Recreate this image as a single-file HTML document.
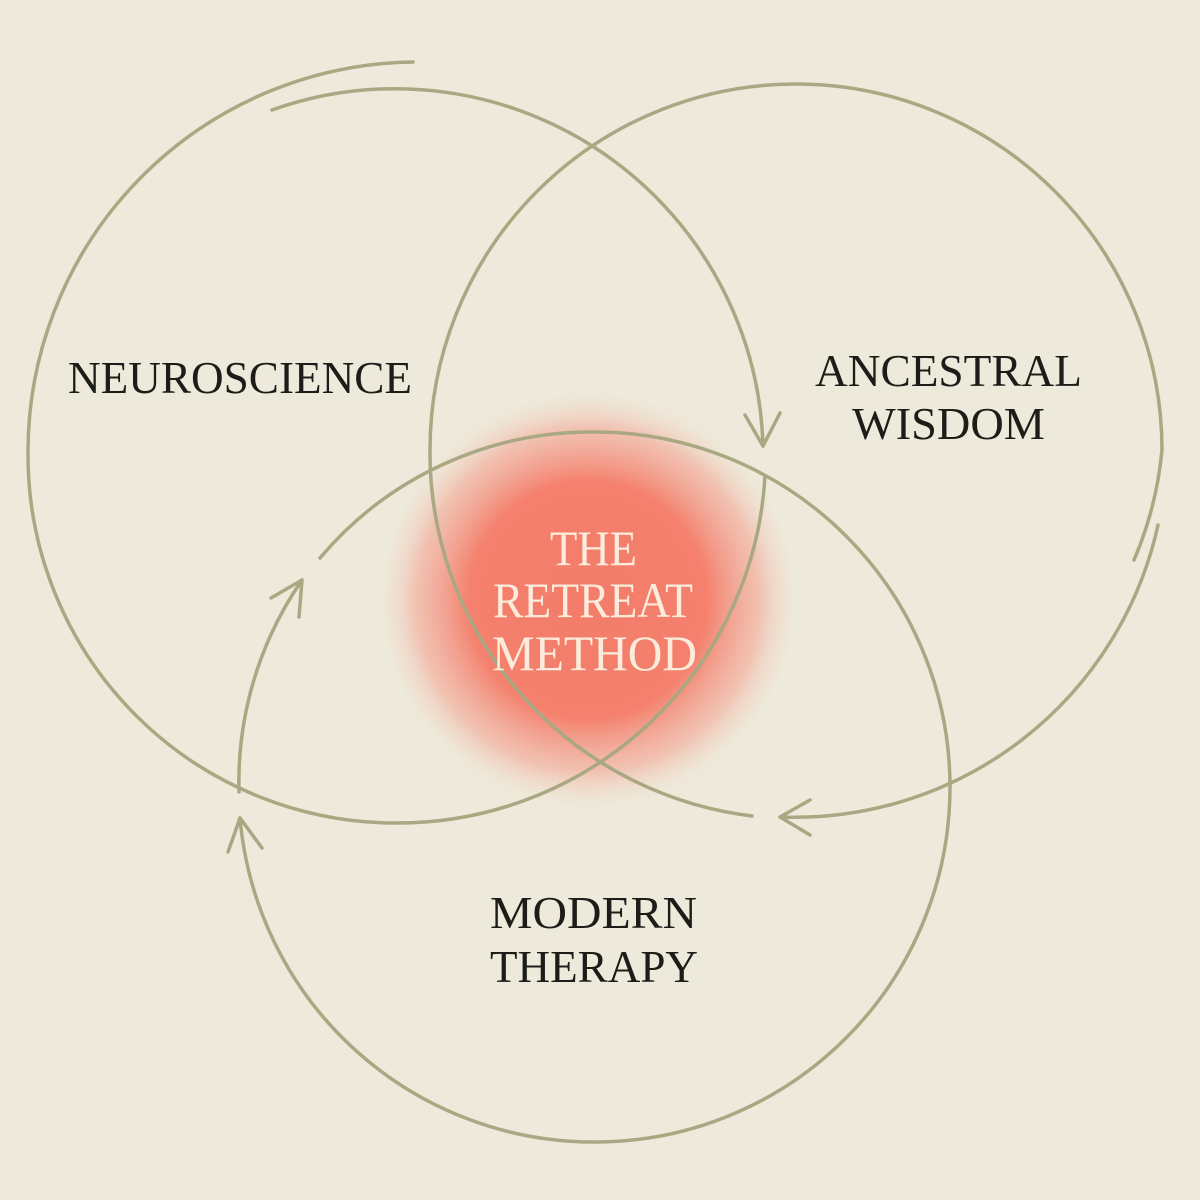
<!DOCTYPE html>
<html><head><meta charset="utf-8"><style>
html,body{margin:0;padding:0;background:#eeeadb;}
svg{display:block}
</style></head><body>
<svg width="1200" height="1200" viewBox="0 0 1200 1200" xmlns="http://www.w3.org/2000/svg">
<defs>
<radialGradient id="g" cx="588" cy="600" r="215" gradientUnits="userSpaceOnUse">
<stop offset="0" stop-color="#f37c6a"/>
<stop offset="0.55" stop-color="#f4806d"/>
<stop offset="0.8" stop-color="#f3a796" stop-opacity="0.6"/>
<stop offset="1" stop-color="#eeeadb" stop-opacity="0"/>
</radialGradient>
</defs>
<rect width="1200" height="1200" fill="#eeeadb"/>
<ellipse cx="588" cy="600" rx="205" ry="215" fill="url(#g)"/>
<g fill="none" stroke="#a9a882" stroke-width="3.5" stroke-linecap="round" stroke-linejoin="round">
<!-- left circle -->
<path d="M272,110 A368,368 0 0 1 763,446"/>
<path d="M765,476 A368,368 0 0 1 397,823 A368,368 0 0 1 28,455 A390,390 0 0 1 413,62"/>
<polyline points="745,415 763,446 780,413"/>
<!-- right circle -->
<path d="M752,816 A366,366 0 0 1 430,450 A366,366 0 0 1 1162,450 A366,366 0 0 1 1134,560"/>
<path d="M1158,525 A372,372 0 0 1 780,817"/>
<polyline points="810,800 780,817 810,835"/>
<!-- bottom circle -->
<path d="M240,818 A355,355 0 0 0 595,1142 A355,355 0 0 0 950,787 A355,355 0 0 0 595,432 A355,355 0 0 0 320,558"/>
<path d="M302,580 A356,356 0 0 0 239,792"/>
<polyline points="271,598 302,580 299,617"/>
<polyline points="228,852 240,818 262,848"/>
</g>
<g font-family="'Liberation Serif', serif" fill="#1c1c18" font-size="46">
<text x="68" y="393" textLength="344" lengthAdjust="spacingAndGlyphs">NEUROSCIENCE</text>
<text x="815" y="386" textLength="267" lengthAdjust="spacingAndGlyphs">ANCESTRAL</text>
<text x="852" y="439" textLength="193" lengthAdjust="spacingAndGlyphs">WISDOM</text>
<text x="490" y="928" textLength="207" lengthAdjust="spacingAndGlyphs">MODERN</text>
<text x="490" y="982" textLength="208" lengthAdjust="spacingAndGlyphs">THERAPY</text>
</g>
<g font-family="'Liberation Serif', serif" fill="#fcecdb" font-size="50">
<text x="550" y="565" textLength="87" lengthAdjust="spacingAndGlyphs">THE</text>
<text x="493" y="617" textLength="200" lengthAdjust="spacingAndGlyphs">RETREAT</text>
<text x="492" y="670" textLength="205" lengthAdjust="spacingAndGlyphs">METHOD</text>
</g>
</svg>
</body></html>
